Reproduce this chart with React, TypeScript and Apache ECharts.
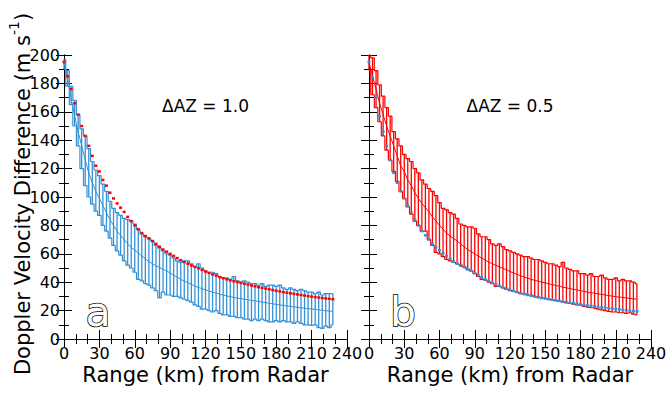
import React, { useEffect, useRef } from "react";
import * as echarts from "echarts";

// Range (km) of each error bar
const rangeKm = [
  0, 3, 6, 9, 12, 15, 18, 21, 24, 27,
  30, 33, 36, 39, 42, 45, 48, 51, 54, 57,
  60, 63, 66, 69, 72, 75, 78, 81, 84, 87,
  90, 93, 96, 99, 102, 105, 108, 111, 114, 117,
  120, 123, 126, 129, 132, 135, 138, 141, 144, 147,
  150, 153, 156, 159, 162, 165, 168, 171, 174, 177,
  180, 183, 186, 189, 192, 195, 198, 201, 204, 207,
  210, 213, 216, 219, 222, 225, 228,
];

// Panel a (ΔAZ = 1.0)
const upperA = [
  197, 189, 178, 168, 158, 148, 143, 134, 125, 119,
  115, 109, 104, 97, 92, 89, 87, 85, 84, 83,
  81, 77, 74, 72, 71, 69, 66, 64, 62, 60,
  59, 57, 55, 54, 55, 55, 53, 51, 53, 50,
  48, 47, 47, 46, 44, 43, 43, 42, 44, 41,
  40, 41, 40, 39, 39, 38, 39, 37, 38, 38,
  37, 38, 36, 35, 36, 35, 34, 35, 34, 33,
  33, 32, 33, 31, 32, 32, 32,
];
const meanA = [
  195, 184, 170, 157, 146, 136, 126, 117, 110, 104,
  99, 94, 89, 84, 80, 76, 73, 70, 67, 64.5,
  62.5, 60.5, 58.5, 56.5, 54.5, 53, 51.5, 50.5, 49, 48,
  46.5, 45, 43.5, 42, 40.8, 39.6, 38.5, 37.3, 36.3, 35.5,
  34.6, 33.8, 33, 32.3, 31.6, 31, 30.4, 29.8, 29.3, 28.8,
  28.4, 28, 27.6, 27.2, 26.8, 26.4, 26, 25.6, 25.2, 24.8,
  24.4, 24, 23.6, 23.3, 23, 22.6, 22.3, 22, 21.7, 21.4,
  21.1, 20.8, 20.5, 20.2, 19.9, 19.7, 19.5,
];
const lowerA = [
  190, 178, 165, 150, 136, 120, 108, 100, 95, 90,
  87, 80, 76, 71, 66, 62, 59, 55, 52, 50,
  47, 42, 41, 39, 38, 36, 34, 29, 33, 31,
  31, 30, 30, 29, 28, 27, 26, 24, 23, 21,
  21, 20, 19, 20, 18, 17, 17, 16, 16, 15,
  15, 14, 14, 13, 14, 13, 14, 13, 12, 12,
  13, 12, 13, 12, 12, 11, 12, 11, 10, 10,
  9.5, 10, 8, 7.5, 9, 8, 10,
];

// Panel b (ΔAZ = 0.5)
const upperB = [
  200, 198, 189, 179, 171, 163, 157, 146, 141, 136,
  130, 127, 125, 120, 117, 112, 109, 106, 104, 101,
  96, 92, 91, 89, 88, 85, 81, 80, 79, 79,
  78, 74, 72, 72, 70, 67, 66, 67, 65, 63,
  62, 61, 60, 59, 58, 58, 57, 56, 56, 55,
  54, 53, 53, 52, 51, 54, 50, 49, 48, 48,
  46, 46, 45, 46, 44, 44, 45, 43, 42, 42,
  43, 41, 42, 41, 41, 40, 39,
];
const meanB = [
  195, 185, 176, 166, 158, 150, 143, 136, 129, 122,
  118, 112, 108, 103, 99, 95.5, 92.5, 89.5, 86, 83,
  80, 77.3, 74.6, 72.5, 70.8, 69, 67, 65, 63, 61.5,
  60, 58.5, 57, 55.5, 54.2, 53, 51.8, 50.8, 49.8, 48.7,
  47.5, 46.5, 45.5, 44.6, 43.6, 42.8, 42, 41.3, 40.7, 40.1,
  39.5, 38.9, 38.3, 37.7, 37.1, 36.5, 36, 35.5, 35, 34.5,
  34, 33.5, 33, 32.6, 32.2, 31.8, 31.4, 31, 30.6, 30.2,
  29.8, 29.5, 29.2, 28.9, 28.6, 28.3, 28,
];
const lowerB = [
  189, 172, 163, 153, 143, 133, 126, 118, 111, 104,
  99, 93, 88, 83, 80, 76, 76, 70, 66, 61,
  60, 58, 56, 55, 54, 53, 52, 51, 49, 48,
  46, 44, 42, 41.5, 40, 39, 37, 37, 36, 35,
  34, 33.5, 33, 32, 32, 31, 31, 30, 29.5, 29,
  28.6, 28, 27.5, 27, 26.5, 26, 25.5, 25, 24.5, 24,
  23.9, 23, 22.5, 22, 21.6, 21, 20.5, 20, 19.5, 19,
  19, 18.5, 18.5, 18, 18.5, 17.5, 17,
];

const panelTitles = ["ΔAZ = 1.0", "ΔAZ = 0.5"];
const panelLetters = ["a", "b"];
const xAxisTitle = "Range (km) from Radar";
const yAxisTitle = "Doppler Velocity Difference (m s";
const yAxisUnitSup = "-1";
const yAxisTitleEnd = ")";

const FONT = "DejaVu Sans";
const BLUE = "#3391d6";
const RED = "#ff0000";

const GRIDS = [
  { left: 64, top: 55, width: 283, height: 284 },
  { left: 369, top: 55, width: 282, height: 284 },
];

function measure(text: string, size: number): number {
  const ctx = document.createElement("canvas").getContext("2d");
  if (!ctx) return text.length * size * 0.6;
  ctx.font = `${size}px "${FONT}"`;
  return ctx.measureText(text).width;
}

function barRenderer(color: string) {
  return (params: any, api: any) => {
    const x = api.value(0);
    const p1 = api.coord([x, api.value(1)]);
    const p2 = api.coord([x, api.value(2)]);
    return {
      type: "line",
      shape: { x1: p1[0], y1: p1[1], x2: p2[0], y2: p2[1] },
      style: { stroke: color, lineWidth: 1.3 },
    };
  };
}

function buildOption() {
  const xAxes: any[] = [];
  const yAxes: any[] = [];
  const series: any[] = [];
  const panels = [
    { upper: upperA, mean: meanA, lower: lowerA, color: BLUE, ref: meanB, refColor: RED },
    { upper: upperB, mean: meanB, lower: lowerB, color: RED, ref: meanA, refColor: BLUE },
  ];

  GRIDS.forEach((g, i) => {
    const axisLine = { show: true, lineStyle: { color: "#000", width: 1 } };
    const xTick = { show: true, inside: true, length: 9, lineStyle: { color: "#000" } };
    const xMinor = { show: true, splitNumber: 3, length: 5, lineStyle: { color: "#000" } };
    const yTick = { show: true, inside: true, length: 8, lineStyle: { color: "#000" } };
    const yMinor = { show: true, splitNumber: 2, length: 5, lineStyle: { color: "#000" } };
    xAxes.push({
      gridIndex: i, type: "value", min: 0, max: 240, interval: 30, position: "bottom",
      axisLine, axisTick: xTick, minorTick: xMinor, splitLine: { show: false },
      axisLabel: { show: true, color: "#000", fontFamily: FONT, fontSize: 16, margin: 6 },
    });
    xAxes.push({
      gridIndex: i, type: "value", min: 0, max: 240, interval: 30, position: "top",
      axisLine, axisTick: xTick, minorTick: xMinor, splitLine: { show: false },
      axisLabel: { show: false },
    });
    yAxes.push({
      gridIndex: i, type: "value", min: 0, max: 200, interval: 20, position: "left",
      axisLine, axisTick: yTick, minorTick: yMinor, splitLine: { show: false },
      axisLabel: { show: i === 0, color: "#000", fontFamily: FONT, fontSize: 16, margin: 4 },
    });
    yAxes.push({
      gridIndex: i, type: "value", min: 0, max: 200, interval: 20, position: "right",
      axisLine, axisTick: yTick, minorTick: yMinor, splitLine: { show: false },
      axisLabel: { show: false },
    });

    const p = panels[i];
    const xi = i * 2;
    const yi = i * 2;
    series.push({
      type: "custom", xAxisIndex: xi, yAxisIndex: yi,
      renderItem: barRenderer(p.color),
      encode: { x: 0, y: [1, 2] },
      data: rangeKm.map((x, k) => [x, p.lower[k], p.upper[k]]),
      z: 2,
    });
    [p.upper, p.lower].forEach((arr) => {
      series.push({
        type: "line", xAxisIndex: xi, yAxisIndex: yi,
        data: rangeKm.map((x, k) => [x, arr[k]]),
        showSymbol: false, symbol: "none", step: "middle",
        lineStyle: { color: p.color, width: 1.2 },
        z: 3,
      });
    });
    series.push({
      type: "line", xAxisIndex: xi, yAxisIndex: yi,
      data: rangeKm.map((x, k) => [x, p.mean[k]]),
      showSymbol: false, symbol: "none",
      lineStyle: { color: p.color, width: 1 },
      z: 3,
    });
    series.push({
      type: "line", xAxisIndex: xi, yAxisIndex: yi,
      data: rangeKm.map((x, k) => [x, p.ref[k]]),
      showSymbol: true, symbol: "rect", symbolSize: [3, 2.5],
      itemStyle: { color: p.refColor },
      lineStyle: { width: 0, opacity: 0 },
      z: 4,
    });
  });

  const graphics: any[] = [];
  GRIDS.forEach((g, i) => {
    const cx = g.left + g.width / 2;
    graphics.push({
      type: "text", x: cx, y: 375,
      style: { text: xAxisTitle, fontFamily: FONT, fontSize: 21, fill: "#000", align: "center", verticalAlign: "middle" },
    });
    graphics.push({
      type: "text", x: cx, y: 106,
      style: { text: panelTitles[i], fontFamily: FONT, fontSize: 17, fill: "#000", align: "center", verticalAlign: "middle" },
    });
    graphics.push({
      type: "text", x: g.left + 34, y: 332,
      style: {
        text: panelLetters[i], fontFamily: FONT, fontSize: 41, fill: "#fff",
        stroke: "#000", lineWidth: 1.5, align: "center", verticalAlign: "bottom",
      },
    });
  });

  // Rotated y-axis title with superscript unit
  const mainSize = 21;
  const supSize = 14;
  const w1 = measure(yAxisTitle, mainSize);
  const w2 = measure(yAxisUnitSup, supSize);
  const w3 = measure(yAxisTitleEnd, mainSize);
  const total = w1 + w2 + w3;
  const cy = 194;
  const y0 = cy + total / 2;
  const tx = 23;
  graphics.push({
    type: "text", x: tx, y: y0, rotation: Math.PI / 2,
    style: { text: yAxisTitle, fontFamily: FONT, fontSize: mainSize, fill: "#000", align: "left", verticalAlign: "middle" },
  });
  graphics.push({
    type: "text", x: tx - 9, y: y0 - w1, rotation: Math.PI / 2,
    style: { text: yAxisUnitSup, fontFamily: FONT, fontSize: supSize, fill: "#000", align: "left", verticalAlign: "middle" },
  });
  graphics.push({
    type: "text", x: tx, y: y0 - w1 - w2, rotation: Math.PI / 2,
    style: { text: yAxisTitleEnd, fontFamily: FONT, fontSize: mainSize, fill: "#000", align: "left", verticalAlign: "middle" },
  });

  return {
    animation: false,
    backgroundColor: "#fff",
    grid: GRIDS.map((g) => ({ ...g, containLabel: false })),
    xAxis: xAxes,
    yAxis: yAxes,
    series,
    graphic: graphics,
  };
}

export default function App() {
  const ref = useRef<HTMLDivElement>(null);
  useEffect(() => {
    if (!ref.current) return;
    const chart = echarts.init(ref.current, undefined, { renderer: "svg" });
    chart.setOption(buildOption() as any);
    return () => chart.dispose();
  }, []);
  return (
    <div
      ref={ref}
      style={{ position: "absolute", left: 0, top: 0, width: 672, height: 396, background: "#fff" }}
    />
  );
}
